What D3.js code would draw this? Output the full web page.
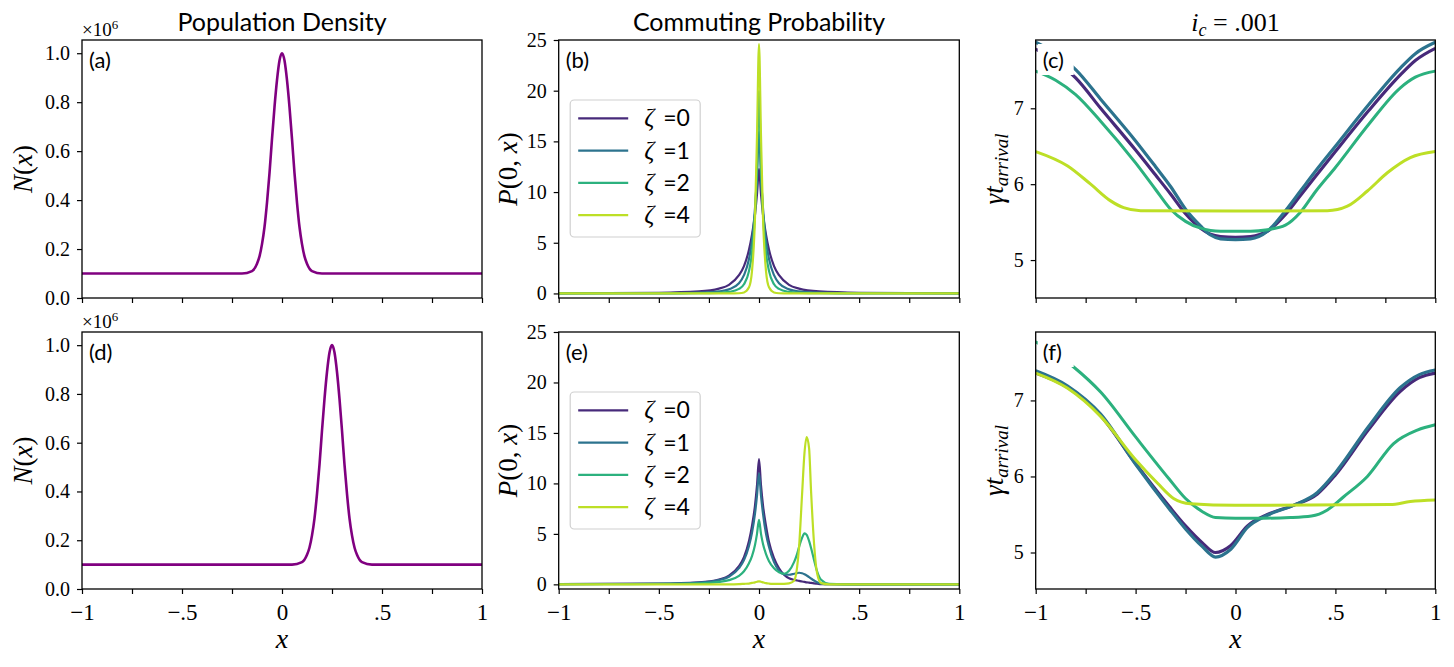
<!DOCTYPE html>
<html>
<head>
<meta charset="utf-8">
<script src="https://cdn.jsdelivr.net/npm/d3@7"></script>
<style>
  body { margin: 0; background: #fff; }
</style>
</head>
<body>
<svg width="1454" height="667"></svg>
<script>
// ---- data ----
const xTicks = [-1, -0.75, -0.5, -0.25, 0, 0.25, 0.5, 0.75, 1];
const xTickText = { "-1": "\u22121", "-0.5": "\u2212.5", "0": "0", "0.5": ".5", "1": "1" };
const popTicks = [0, 0.2, 0.4, 0.6, 0.8, 1.0];
const probTicks = [0, 5, 10, 15, 20, 25];
const timeTicks = [5, 6, 7];
const zetas = [0, 1, 2, 4];

// (a) population, peak at 0
const popX_a = [-1, -0.5, -0.2, -0.15, -0.125, -0.1125, -0.1, -0.0875, -0.075, -0.0625, -0.05, -0.0375, -0.025, -0.0125, 0, 0.0125, 0.025, 0.0375, 0.05, 0.0625, 0.075, 0.0875, 0.1, 0.1125, 0.125, 0.15, 0.2, 0.5, 1];
const popN_a = [0.1, 0.1, 0.1, 0.11, 0.14, 0.17, 0.22, 0.29, 0.39, 0.51, 0.65, 0.78, 0.89, 0.97, 1.0, 0.97, 0.89, 0.78, 0.65, 0.51, 0.39, 0.29, 0.22, 0.17, 0.14, 0.11, 0.1, 0.1, 0.1];
// (d) population, peak at .25
const popX_d = [-1, -0.5, 0.05, 0.1, 0.125, 0.1375, 0.15, 0.1625, 0.175, 0.1875, 0.2, 0.2125, 0.225, 0.2375, 0.25, 0.2625, 0.275, 0.2875, 0.3, 0.3125, 0.325, 0.3375, 0.35, 0.3625, 0.375, 0.4, 0.45, 0.75, 1];
const popN_d = [0.1, 0.1, 0.1, 0.11, 0.14, 0.17, 0.22, 0.29, 0.39, 0.51, 0.65, 0.78, 0.89, 0.97, 1.0, 0.97, 0.89, 0.78, 0.65, 0.51, 0.39, 0.29, 0.22, 0.17, 0.14, 0.11, 0.1, 0.1, 0.1];

// (b) commuting probability
const probX_b = [-1, -0.5, -0.3, -0.2, -0.15, -0.1, -0.075, -0.05, -0.035, -0.02, -0.01, 0, 0.01, 0.02, 0.035, 0.05, 0.075, 0.1, 0.15, 0.2, 0.3, 0.5, 1];
const prob_b0 = [0.02, 0.07, 0.2, 0.48, 0.85, 1.8, 2.7, 4.3, 5.8, 7.8, 9.8, 12.3, 9.8, 7.8, 5.8, 4.3, 2.7, 1.8, 0.85, 0.48, 0.2, 0.07, 0.02];
const prob_b1 = [0.01, 0.03, 0.08, 0.2, 0.4, 1.0, 1.8, 3.4, 5.2, 8.4, 11.5, 16.0, 11.5, 8.4, 5.2, 3.4, 1.8, 1.0, 0.4, 0.2, 0.08, 0.03, 0.01];
const prob_b2 = [0, 0.01, 0.02, 0.06, 0.15, 0.45, 0.9, 2.2, 4.0, 7.8, 12.5, 20.0, 12.5, 7.8, 4.0, 2.2, 0.9, 0.45, 0.15, 0.06, 0.02, 0.01, 0];
const prob_b4 = [0, 0, 0, 0, 0, 0.02, 0.1, 0.6, 2.2, 7.5, 15.5, 24.6, 15.5, 7.5, 2.2, 0.6, 0.1, 0.02, 0, 0, 0, 0, 0];

// (e) commuting probability
const probX_e = [-1, -0.5, -0.3, -0.2, -0.15, -0.1, -0.075, -0.05, -0.035, -0.02, -0.01, 0, 0.01, 0.02, 0.035, 0.05, 0.075, 0.1, 0.125, 0.15, 0.175, 0.19, 0.2, 0.215, 0.227, 0.238, 0.25, 0.26, 0.275, 0.29, 0.31, 0.35, 0.5, 1];
const prob_e0 = [0.02, 0.07, 0.2, 0.48, 0.85, 1.8, 2.7, 4.3, 5.8, 7.8, 9.8, 12.4, 9.8, 7.8, 5.8, 4.2, 2.6, 1.6, 0.95, 0.6, 0.45, 0.38, 0.34, 0.28, 0.24, 0.2, 0.17, 0.14, 0.1, 0.07, 0.03, 0.01, 0, 0];
const prob_e1 = [0.02, 0.06, 0.18, 0.42, 0.75, 1.6, 2.4, 3.8, 5.1, 7.0, 8.8, 11.0, 8.8, 7.0, 5.0, 3.7, 2.2, 1.35, 1.0, 0.95, 1.05, 1.12, 1.15, 1.1, 1.0, 0.88, 0.72, 0.58, 0.38, 0.2, 0.08, 0.01, 0, 0];
const prob_e2 = [0.01, 0.04, 0.1, 0.25, 0.42, 0.85, 1.3, 2.1, 2.8, 3.9, 5.0, 6.4, 5.0, 4.0, 3.0, 2.3, 1.6, 1.2, 1.05, 1.35, 2.2, 3.0, 3.7, 4.6, 5.05, 4.9, 4.3, 3.6, 2.4, 1.3, 0.45, 0.05, 0, 0];
const prob_e4 = [0, 0, 0, 0, 0, 0.02, 0.05, 0.08, 0.14, 0.2, 0.26, 0.3, 0.26, 0.2, 0.12, 0.08, 0.05, 0.04, 0.05, 0.1, 0.35, 1.65, 3.7, 8.9, 13.0, 14.6, 13.5, 9.2, 4.0, 1.1, 0.12, 0, 0, 0];

// (c) arrival time
const timeX_c = [-1, -0.9, -0.8, -0.675, -0.5, -0.4, -0.325, -0.25, -0.175, -0.125, -0.075, 0, 0.075, 0.16, 0.25, 0.325, 0.4, 0.5, 0.667, 0.825, 0.9, 1];
const time_c0 = [7.78, 7.62, 7.4, 7.0, 6.45, 6.12, 5.87, 5.61, 5.42, 5.34, 5.31, 5.3, 5.31, 5.38, 5.6, 5.85, 6.1, 6.43, 6.97, 7.44, 7.63, 7.79];
const time_c1 = [7.87, 7.72, 7.51, 7.12, 6.57, 6.23, 5.97, 5.67, 5.45, 5.33, 5.28, 5.27, 5.28, 5.38, 5.65, 5.91, 6.17, 6.5, 7.05, 7.53, 7.72, 7.87];
const time_c2 = [7.49, 7.37, 7.18, 6.83, 6.28, 5.93, 5.67, 5.51, 5.42, 5.39, 5.38, 5.38, 5.38, 5.4, 5.46, 5.63, 5.9, 6.22, 6.79, 7.27, 7.41, 7.49];
const timeX_c4 = [-1, -0.84, -0.725, -0.625, -0.56, -0.475, 0, 0.46, 0.56, 0.66, 0.76, 0.875, 1];
const time_c4 = [6.43, 6.24, 6.0, 5.78, 5.69, 5.65, 5.645, 5.65, 5.71, 5.91, 6.15, 6.35, 6.43];

// (f) arrival time
const timeX_f = [-1, -0.84, -0.675, -0.5, -0.333, -0.25, -0.167, -0.1, -0.025, 0.06, 0.16, 0.29, 0.41, 0.5, 0.667, 0.825, 0.92, 1];
const time_f0 = [7.36, 7.17, 6.8, 6.17, 5.61, 5.35, 5.13, 5.0, 5.09, 5.35, 5.5, 5.62, 5.77, 6.02, 6.62, 7.12, 7.3, 7.36];
const time_f1 = [7.39, 7.19, 6.82, 6.16, 5.58, 5.31, 5.08, 4.94, 5.04, 5.33, 5.49, 5.62, 5.79, 6.05, 6.66, 7.17, 7.34, 7.4];
const timeX_f2 = [-1, -0.9, -0.81, -0.675, -0.5, -0.333, -0.25, -0.167, -0.1, 0, 0.1, 0.275, 0.38, 0.46, 0.54, 0.66, 0.79, 0.91, 1];
const time_f2 = [7.77, 7.62, 7.44, 7.11, 6.52, 5.97, 5.71, 5.54, 5.46, 5.45, 5.45, 5.46, 5.48, 5.56, 5.73, 6.0, 6.43, 6.61, 6.68];
const timeX_f4 = [-1, -0.84, -0.675, -0.5, -0.39, -0.31, -0.225, 0, 0.775, 0.875, 1];
const time_f4 = [7.36, 7.16, 6.79, 6.22, 5.91, 5.71, 5.64, 5.62, 5.63, 5.67, 5.69];

// ---- layout ----
const cols = [{ x0: 82, x1: 482 }, { x0: 558.7, x1: 959.3 }, { x0: 1035.7, x1: 1435.3 }];
const rows = [{ y0: 40, y1: 298 }, { y0: 332, y1: 589 }];
const zetaColors = zetas.map((z, i) => d3.interpolateViridis([0.12, 0.38, 0.64, 0.9][i]));
const SERIF = '"Liberation Serif", "DejaVu Serif", serif';
const SANS = '"Lato", "Open Sans", sans-serif';

const svg = d3.select("svg");
let clipId = 0;

function zip(xs, ys) {
  return xs.map((x, i) => ({ x: x, y: ys[i] }));
}

function makePanel(col, row, yDomain, yTicks, yFormat, letter, showXLabels) {
  const c = cols[col], r = rows[row];
  const x = d3.scaleLinear().domain([-1, 1]).range([c.x0, c.x1]);
  const y = d3.scaleLinear().domain(yDomain).range([r.y1, r.y0]);
  const g = svg.append("g");

  const id = "clip" + clipId++;
  g.append("clipPath").attr("id", id)
    .append("rect")
    .attr("x", c.x0).attr("y", r.y0)
    .attr("width", c.x1 - c.x0).attr("height", r.y1 - r.y0);
  const plot = g.append("g").attr("clip-path", `url(#${id})`);

  const xAxis = g.append("g")
    .attr("transform", `translate(0,${r.y1})`)
    .call(d3.axisBottom(x).tickValues(xTicks).tickSize(5)
      .tickFormat(d => showXLabels ? (xTickText[String(d)] || "") : ""));
  xAxis.select(".domain").remove();
  xAxis.selectAll("line").attr("stroke", "#000").attr("stroke-width", 1.2);
  xAxis.selectAll("text")
    .style("font-family", SERIF)
    .attr("y", 31).attr("dy", null)
    .attr("font-size", 23).attr("fill", "#000");

  const yAxis = g.append("g")
    .attr("transform", `translate(${c.x0},0)`)
    .call(d3.axisLeft(y).tickValues(yTicks).tickSize(5).tickPadding(7).tickFormat(yFormat));
  yAxis.select(".domain").remove();
  yAxis.selectAll("line").attr("stroke", "#000").attr("stroke-width", 1.2);
  yAxis.selectAll("text")
    .style("font-family", SERIF)
    .attr("font-size", 20).attr("fill", "#000");

  return { g, plot, x, y, c, r, letter };
}

function finishPanel(p) {
  p.g.append("rect")
    .attr("x", p.c.x0).attr("y", p.r.y0)
    .attr("width", p.c.x1 - p.c.x0).attr("height", p.r.y1 - p.r.y0)
    .attr("fill", "none").attr("stroke", "#000").attr("stroke-width", 1.3);
  p.g.append("rect")
    .attr("x", p.c.x0 + 2).attr("y", p.r.y0 + 4)
    .attr("width", 36).attr("height", 31)
    .attr("fill", "#fff");
  p.g.append("text")
    .style("font-family", SANS)
    .attr("x", p.c.x0 + 7).attr("y", p.r.y0 + 28)
    .attr("font-size", 22)
    .text("(" + p.letter + ")");
}

function drawLine(p, xs, ys, color, width) {
  const line = d3.line()
    .x(d => p.x(d.x))
    .y(d => p.y(d.y))
    .curve(d3.curveMonotoneX);
  p.plot.append("path")
    .datum(zip(xs, ys))
    .attr("d", line)
    .attr("fill", "none")
    .attr("stroke", color)
    .attr("stroke-width", width)
    .attr("stroke-linejoin", "round");
}

function legend(p) {
  const lx = p.c.x0 + 11.5, ly = p.r.y0 + 60;
  const lg = p.g.append("g");
  lg.append("rect")
    .attr("x", lx).attr("y", ly).attr("width", 130).attr("height", 137)
    .attr("rx", 4).attr("fill", "#fff").attr("fill-opacity", 0.8)
    .attr("stroke", "#d0d0d0").attr("stroke-width", 1.2);
  zetas.forEach((z, i) => {
    const yy = ly + 18.3 + i * 32.3;
    lg.append("line")
      .attr("x1", lx + 8).attr("x2", lx + 58).attr("y1", yy).attr("y2", yy)
      .attr("stroke", zetaColors[i]).attr("stroke-width", 2.2);
    const t = lg.append("text").attr("y", yy + 8);
    t.append("tspan").style("font-family", SERIF).attr("x", lx + 74)
      .attr("font-style", "italic").attr("font-size", 25).text("\u03b6");
    t.append("tspan").style("font-family", SANS).attr("x", lx + 93)
      .attr("font-size", 23).text("=" + z);
  });
}

function yLabel(x, yc, build) {
  const t = svg.append("text")
    .style("font-family", SERIF)
    .attr("transform", `translate(${x},${yc}) rotate(-90)`)
    .attr("text-anchor", "middle")
    .attr("font-size", 27);
  build(t);
}

function nLabel(t) {
  t.append("tspan").attr("font-style", "italic").text("N");
  t.append("tspan").text("(");
  t.append("tspan").attr("font-style", "italic").text("x");
  t.append("tspan").text(")");
}
function pLabel(t) {
  t.append("tspan").attr("font-style", "italic").text("P");
  t.append("tspan").text("(0, ");
  t.append("tspan").attr("font-style", "italic").text("x");
  t.append("tspan").text(")");
}
function tLabel(t) {
  t.append("tspan").attr("font-style", "italic").text("\u03b3t");
  t.append("tspan").attr("font-style", "italic").attr("font-size", 19)
    .attr("dy", 5).text("arrival");
}

const popFmt = d => d.toFixed(1);
const intFmt = d => String(d);

// ---- panels ----
const pa = makePanel(0, 0, [0, 1.054], popTicks, popFmt, "a", false);
drawLine(pa, popX_a, popN_a, "#800080", 2.6);
finishPanel(pa);

const pd = makePanel(0, 1, [0, 1.054], popTicks, popFmt, "d", true);
drawLine(pd, popX_d, popN_d, "#800080", 2.6);
finishPanel(pd);

const pb = makePanel(1, 0, [-0.45, 25], probTicks, intFmt, "b", false);
[prob_b0, prob_b1, prob_b2, prob_b4].forEach((s, i) => drawLine(pb, probX_b, s, zetaColors[i], 2.2));
finishPanel(pb);
legend(pb);

const pe = makePanel(1, 1, [-0.46, 25], probTicks, intFmt, "e", true);
[prob_e0, prob_e1, prob_e2, prob_e4].forEach((s, i) => drawLine(pe, probX_e, s, zetaColors[i], 2.2));
finishPanel(pe);
legend(pe);

const pc = makePanel(2, 0, [4.5, 7.9], timeTicks, intFmt, "c", false);
drawLine(pc, timeX_c, time_c0, zetaColors[0], 3.2);
drawLine(pc, timeX_c, time_c1, zetaColors[1], 3.2);
drawLine(pc, timeX_c, time_c2, zetaColors[2], 3);
drawLine(pc, timeX_c4, time_c4, zetaColors[3], 3);
finishPanel(pc);

const pf = makePanel(2, 1, [4.52, 7.9], timeTicks, intFmt, "f", true);
drawLine(pf, timeX_f, time_f0, zetaColors[0], 3.2);
drawLine(pf, timeX_f, time_f1, zetaColors[1], 3.2);
drawLine(pf, timeX_f2, time_f2, zetaColors[2], 3);
drawLine(pf, timeX_f4, time_f4, zetaColors[3], 3);
finishPanel(pf);

// ---- axis labels and titles ----
rows.forEach(r => {
  const yc = (r.y0 + r.y1) / 2;
  yLabel(32, yc, nLabel);
  yLabel(517, yc, pLabel);
  yLabel(1003, yc, tLabel);
  const m = svg.append("text")
    .style("font-family", SERIF)
    .attr("x", cols[0].x0).attr("y", r.y0 - 4)
    .attr("font-size", 19);
  m.append("tspan").text("\u00d710");
  m.append("tspan").attr("font-size", 13).attr("dy", -7).text("6");
});

cols.forEach(c => {
  svg.append("text")
    .style("font-family", SERIF)
    .attr("x", (c.x0 + c.x1) / 2).attr("y", 648)
    .attr("text-anchor", "middle")
    .attr("font-style", "italic").attr("font-size", 28)
    .text("x");
});

svg.append("text")
  .style("font-family", SANS)
  .attr("x", (cols[0].x0 + cols[0].x1) / 2).attr("y", 31)
  .attr("text-anchor", "middle").attr("font-size", 25)
  .text("Population Density");
svg.append("text")
  .style("font-family", SANS)
  .attr("x", (cols[1].x0 + cols[1].x1) / 2).attr("y", 31)
  .attr("text-anchor", "middle").attr("font-size", 25)
  .text("Commuting Probability");
const ic = svg.append("text")
  .style("font-family", SERIF)
  .attr("x", (cols[2].x0 + cols[2].x1) / 2).attr("y", 31)
  .attr("text-anchor", "middle").attr("font-size", 26);
ic.append("tspan").attr("font-style", "italic").text("i");
ic.append("tspan").attr("font-style", "italic").attr("font-size", 18).attr("dy", 5).text("c");
ic.append("tspan").attr("dy", -5).text(" = .001");
</script>
</body>
</html>
